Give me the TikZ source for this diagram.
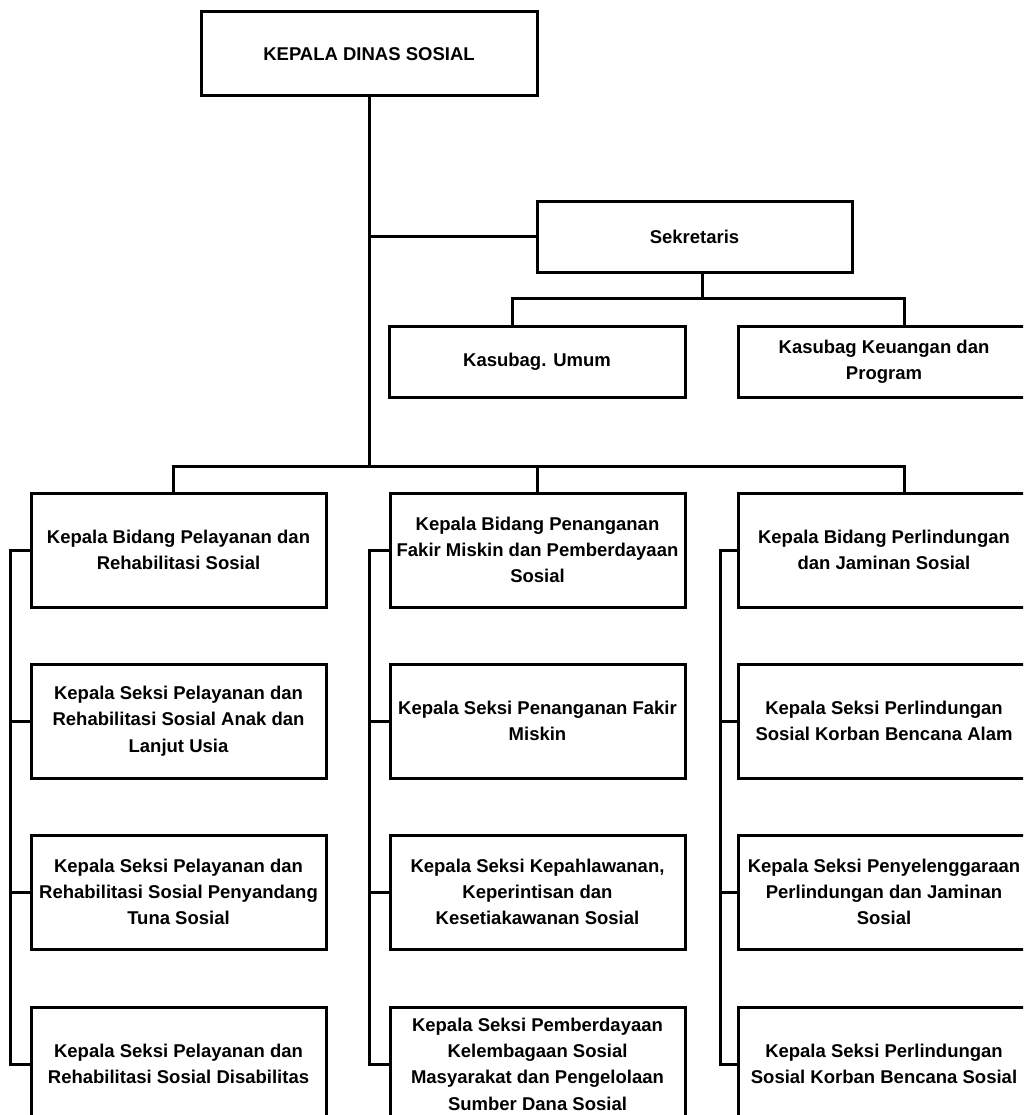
\documentclass[tikz,border=0pt]{standalone}
\usepackage{fontspec}
\setmainfont{Liberation Sans}
\begin{document}
\begin{tikzpicture}[x=1pt,y=-1pt,
  box/.style={draw=black,line width=3pt,rectangle,inner sep=0pt,outer sep=0pt,
    align=center,font=\fontsize{18.5pt}{26.3pt}\selectfont\bfseries,fill=white},
  rbox/.style={box,minimum width=292pt},
  conn/.style={draw=black,line width=3pt,line join=miter}]
\useasboundingbox (0,0) rectangle (1023,1115);
\clip (0,0) rectangle (1023,1115);
\fill[white] (0,0) rectangle (1023,1115);
% coordinates
\coordinate (busB) at (369,466);
\coordinate (sekbus) at (702,298);
\coordinate (dU) at (512,298);
\coordinate (dK) at (904,298);
\coordinate (d1) at (173,466);
\coordinate (d3) at (904,466);
\coordinate (cL) at (10,0);
\coordinate (cM) at (369,0);
\coordinate (cR) at (720,0);
% nodes
\node[box,minimum width=336pt,minimum height=84pt] (kadis) at (369,54) {KEPALA DINAS SOSIAL};
\node[box,minimum width=315pt,minimum height=70pt] (sek) at (694.5,237) {Sekretaris};
\node[box,minimum width=296pt,minimum height=71pt] (umum) at (537,361.5) {Kasubag. Umum};
\node[rbox,minimum height=71pt] (keu) at (884,361.5) {Kasubag Keuangan dan\\Program};
\node[box,minimum width=295pt,minimum height=114pt] (bid1) at (178.5,550) {Kepala Bidang Pelayanan dan\\Rehabilitasi Sosial};
\node[box,minimum width=295pt,minimum height=114pt] (bid2) at (537.5,550) {Kepala Bidang Penanganan\\Fakir Miskin dan Pemberdayaan\\Sosial};
\node[rbox,minimum height=114pt] (bid3) at (884,550) {Kepala Bidang Perlindungan\\dan Jaminan Sosial};
\node[box,minimum width=295pt,minimum height=114pt] (s12) at (178.5,721) {Kepala Seksi Pelayanan dan\\Rehabilitasi Sosial Anak dan\\Lanjut Usia};
\node[box,minimum width=295pt,minimum height=114pt] (s13) at (178.5,892) {Kepala Seksi Pelayanan dan\\Rehabilitasi Sosial Penyandang\\Tuna Sosial};
\node[box,minimum width=295pt,minimum height=114pt] (s14) at (178.5,1064) {Kepala Seksi Pelayanan dan\\Rehabilitasi Sosial Disabilitas};
\node[box,minimum width=295pt,minimum height=114pt] (s22) at (537.5,721) {Kepala Seksi Penanganan Fakir\\Miskin};
\node[box,minimum width=295pt,minimum height=114pt] (s23) at (537.5,892) {Kepala Seksi Kepahlawanan,\\Keperintisan dan\\Kesetiakawanan Sosial};
\node[box,minimum width=295pt,minimum height=114pt] (s24) at (537.5,1064) {Kepala Seksi Pemberdayaan\\Kelembagaan Sosial\\Masyarakat dan Pengelolaan\\Sumber Dana Sosial};
\node[rbox,minimum height=114pt] (s32) at (884,721) {Kepala Seksi Perlindungan\\Sosial Korban Bencana Alam};
\node[rbox,minimum height=114pt] (s33) at (884,892) {Kepala Seksi Penyelenggaraan\\Perlindungan dan Jaminan\\Sosial};
\node[rbox,minimum height=114pt] (s34) at (884,1064) {Kepala Seksi Perlindungan\\Sosial Korban Bencana Sosial};
% connectors
\draw[conn] (kadis.south) -- (busB);
\draw[conn] (kadis.south |- sek.west) -- (sek.west);
\draw[conn] (sek.south -| sekbus) -- (sekbus);
\draw[conn] (umum.north -| dU) -- (dU) -- (dK) -- (keu.north -| dK);
\draw[conn] (bid1.north -| d1) -- (d1) -- (d3) -- (bid3.north -| d3);
\draw[conn] (bid2.north) -- (bid2.north |- busB);
% left column
\draw[conn] (bid1.west) -- (bid1.west -| cL) -- (s14.west -| cL) -- (s14.west);
\draw[conn] (s12.west) -- (s12.west -| cL);
\draw[conn] (s13.west) -- (s13.west -| cL);
% middle column
\draw[conn] (bid2.west) -- (bid2.west -| cM) -- (s24.west -| cM) -- (s24.west);
\draw[conn] (s22.west) -- (s22.west -| cM);
\draw[conn] (s23.west) -- (s23.west -| cM);
% right column
\draw[conn] (bid3.west) -- (bid3.west -| cR) -- (s34.west -| cR) -- (s34.west);
\draw[conn] (s32.west) -- (s32.west -| cR);
\draw[conn] (s33.west) -- (s33.west -| cR);
\end{tikzpicture}
\end{document}
